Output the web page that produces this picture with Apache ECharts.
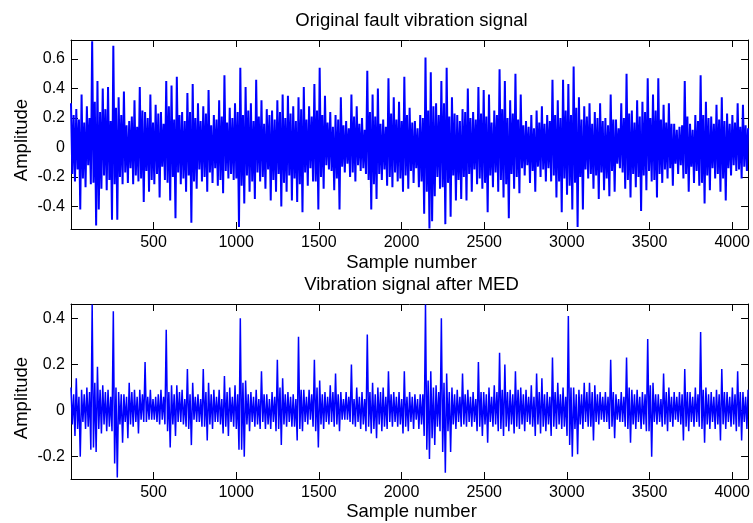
<!DOCTYPE html>
<html><head><meta charset="utf-8">
<script src="https://cdn.jsdelivr.net/npm/echarts@6/dist/echarts.min.js"></script>
<style>html,body{margin:0;padding:0;background:#fff}#c{width:753px;height:523px}</style>
</head><body><div id="c"></div>
<script>
// ---- data (one value every 8 samples) ----
const sampleStep = 8;
const sampleCount = 4096;
const origSignal = [
0.30,-0.18,0.22,-0.23, 0.26,-0.15,0.19,-0.42, 0.36,-0.21,0.17,-0.27, 0.28,-0.12,0.20,-0.25,
0.72,-0.24,0.31,-0.53, 0.45,-0.42,0.24,-0.28, 0.40,-0.19,0.26,-0.29, 0.41,-0.22,0.18,-0.49,
0.69,-0.25,0.27,-0.49, 0.34,-0.20,0.22,-0.25, 0.38,-0.17,0.15,-0.24, 0.18,-0.14,0.21,-0.25,
0.32,-0.19,0.14,-0.23, 0.41,-0.21,0.25,-0.37, 0.24,-0.16,0.20,-0.30, 0.36,-0.22,0.17,-0.25,
0.29,-0.18,0.23,-0.34, 0.24,-0.13,0.16,-0.22, 0.45,-0.24,0.28,-0.36, 0.42,-0.20,0.19,-0.48,
0.48,-0.17,0.22,-0.25, 0.24,-0.21,0.18,-0.30, 0.37,-0.19,0.24,-0.51, 0.43,-0.23,0.20,-0.28,
0.30,-0.15,0.18,-0.23, 0.28,-0.20,0.23,-0.30, 0.39,-0.17,0.15,-0.24, 0.22,-0.14,0.19,-0.26,
0.32,-0.22,0.21,-0.31, 0.49,-0.16,0.17,-0.21, 0.27,-0.18,0.20,-0.22, 0.30,-0.21,0.24,-0.54,
0.54,-0.26,0.22,-0.38, 0.41,-0.19,0.25,-0.30, 0.30,-0.23,0.18,-0.35, 0.46,-0.17,0.21,-0.23,
0.32,-0.20,0.16,-0.28, 0.26,-0.15,0.22,-0.36, 0.25,-0.22,0.19,-0.30, 0.32,-0.18,0.24,-0.40,
0.36,-0.24,0.20,-0.30, 0.35,-0.19,0.23,-0.36, 0.28,-0.21,0.18,-0.37, 0.34,-0.25,0.26,-0.44,
0.41,-0.17,0.19,-0.26, 0.28,-0.14,0.21,-0.23, 0.43,-0.23,0.25,-0.42, 0.54,-0.20,0.22,-0.28,
0.35,-0.12,0.17,-0.15, 0.24,-0.16,0.14,-0.29, 0.22,-0.21,0.19,-0.42, 0.34,-0.13,0.15,-0.17,
0.18,-0.11,0.13,-0.20, 0.36,-0.17,0.21,-0.23, 0.28,-0.12,0.16,-0.16, 0.20,-0.14,0.12,-0.18,
0.52,-0.22,0.24,-0.42, 0.36,-0.25,0.21,-0.35, 0.40,-0.18,0.16,-0.22, 0.19,-0.15,0.14,-0.26,
0.47,-0.20,0.23,-0.27, 0.34,-0.17,0.19,-0.23, 0.31,-0.21,0.18,-0.30, 0.48,-0.19,0.22,-0.28,
0.27,-0.16,0.17,-0.24, 0.18,-0.14,0.13,-0.27, 0.22,-0.23,0.20,-0.45, 0.61,-0.30,0.25,-0.55,
0.51,-0.50,0.28,-0.33, 0.30,-0.20,0.22,-0.28, 0.45,-0.27,0.30,-0.52, 0.54,-0.24,0.21,-0.47,
0.34,-0.19,0.23,-0.36, 0.22,-0.22,0.18,-0.35, 0.26,-0.20,0.24,-0.36, 0.40,-0.18,0.20,-0.30,
0.24,-0.15,0.19,-0.25, 0.41,-0.21,0.23,-0.28, 0.39,-0.24,0.21,-0.44, 0.36,-0.19,0.17,-0.27,
0.25,-0.17,0.22,-0.30, 0.53,-0.22,0.26,-0.34, 0.45,-0.25,0.20,-0.48, 0.32,-0.18,0.23,-0.28,
0.50,-0.20,0.19,-0.31, 0.36,-0.14,0.15,-0.19, 0.18,-0.12,0.14,-0.24, 0.22,-0.16,0.13,-0.30,
0.25,-0.13,0.17,-0.20, 0.28,-0.15,0.16,-0.23, 0.22,-0.14,0.18,-0.23, 0.46,-0.19,0.22,-0.34,
0.32,-0.23,0.20,-0.44, 0.46,-0.21,0.25,-0.32, 0.43,-0.26,0.22,-0.42, 0.55,-0.24,0.27,-0.54,
0.34,-0.20,0.19,-0.42, 0.28,-0.15,0.21,-0.21, 0.30,-0.18,0.16,-0.28, 0.24,-0.19,0.20,-0.35,
0.30,-0.17,0.18,-0.29, 0.20,-0.21,0.15,-0.33, 0.36,-0.16,0.19,-0.30, 0.19,-0.11,0.13,-0.14,
0.30,-0.17,0.20,-0.28, 0.50,-0.22,0.23,-0.34, 0.25,-0.18,0.17,-0.27, 0.32,-0.20,0.21,-0.43,
0.31,-0.19,0.24,-0.29, 0.47,-0.16,0.20,-0.23, 0.36,-0.22,0.25,-0.34, 0.47,-0.18,0.19,-0.24,
0.29,-0.15,0.17,-0.21, 0.30,-0.14,0.16,-0.26, 0.16,-0.11,0.12,-0.18, 0.14,-0.12,0.15,-0.21,
0.45,-0.18,0.21,-0.30, 0.16,-0.13,0.12,-0.24, 0.22,-0.16,0.18,-0.26, 0.49,-0.24,0.22,-0.38,
0.31,-0.19,0.20,-0.29, 0.21,-0.14,0.16,-0.21, 0.29,-0.18,0.19,-0.30, 0.34,-0.21,0.18,-0.36,
0.23,-0.14,0.16,-0.19, 0.22,-0.12,0.17,-0.16, 0.30,-0.15,0.14,-0.21, 0.29,-0.13,0.15,-0.16,
0.13];
const medSignal = [
0.10,-0.06,0.07,-0.11, 0.14,-0.08,0.06,-0.20, 0.09,-0.05,0.07,-0.08, 0.10,-0.07,0.08,-0.17,
0.46,-0.16,0.12,-0.18, 0.19,-0.08,0.09,-0.10, 0.11,-0.06,0.08,-0.09, 0.09,-0.07,0.06,-0.09,
0.43,-0.23,0.10,-0.29, 0.08,-0.06,0.07,-0.14, 0.07,-0.05,0.06,-0.12, 0.12,-0.06,0.08,-0.07,
0.09,-0.05,0.06,-0.10, 0.09,-0.04,0.07,-0.05, 0.21,-0.05,0.06,-0.04, 0.09,-0.04,0.05,-0.04,
0.06,-0.05,0.07,-0.06, 0.09,-0.04,0.06,-0.06, 0.35,-0.09,0.08,-0.16, 0.11,-0.06,0.07,-0.11,
0.11,-0.05,0.08,-0.05, 0.09,-0.06,0.05,-0.07, 0.18,-0.08,0.07,-0.15, 0.12,-0.04,0.06,-0.05,
0.07,-0.05,0.05,-0.07, 0.18,-0.07,0.08,-0.13, 0.12,-0.06,0.07,-0.08, 0.09,-0.05,0.06,-0.05,
0.09,-0.06,0.05,-0.10, 0.15,-0.07,0.08,-0.11, 0.10,-0.05,0.06,-0.07, 0.11,-0.08,0.07,-0.17,
0.40,-0.17,0.12,-0.20, 0.13,-0.06,0.07,-0.09, 0.08,-0.05,0.06,-0.07, 0.09,-0.06,0.05,-0.08,
0.17,-0.05,0.07,-0.08, 0.07,-0.06,0.05,-0.08, 0.08,-0.05,0.06,-0.09, 0.22,-0.08,0.10,-0.15,
0.14,-0.06,0.07,-0.07, 0.08,-0.05,0.06,-0.07, 0.07,-0.07,0.05,-0.13, 0.32,-0.08,0.09,-0.09,
0.09,-0.05,0.06,-0.06, 0.09,-0.04,0.07,-0.07, 0.22,-0.09,0.10,-0.16, 0.13,-0.06,0.07,-0.08,
0.08,-0.05,0.06,-0.06, 0.11,-0.05,0.08,-0.07, 0.16,-0.06,0.07,-0.09, 0.08,-0.04,0.05,-0.04,
0.08,-0.04,0.06,-0.05, 0.20,-0.06,0.05,-0.07, 0.10,-0.05,0.06,-0.08, 0.08,-0.06,0.05,-0.09,
0.33,-0.07,0.08,-0.10, 0.12,-0.08,0.07,-0.12, 0.10,-0.06,0.08,-0.09, 0.10,-0.07,0.06,-0.08,
0.17,-0.05,0.07,-0.07, 0.08,-0.05,0.06,-0.07, 0.08,-0.06,0.05,-0.10, 0.17,-0.07,0.06,-0.09,
0.08,-0.05,0.06,-0.08, 0.07,-0.04,0.05,-0.08, 0.07,-0.06,0.07,-0.11, 0.46,-0.17,0.13,-0.21,
0.17,-0.12,0.10,-0.15, 0.11,-0.07,0.08,-0.09, 0.40,-0.18,0.12,-0.27, 0.16,-0.09,0.08,-0.18,
0.10,-0.06,0.07,-0.08, 0.09,-0.05,0.06,-0.07, 0.16,-0.06,0.07,-0.07, 0.09,-0.05,0.06,-0.07,
0.08,-0.05,0.05,-0.09, 0.21,-0.07,0.08,-0.11, 0.08,-0.06,0.07,-0.14, 0.10,-0.05,0.06,-0.07,
0.11,-0.06,0.08,-0.09, 0.25,-0.08,0.09,-0.11, 0.20,-0.07,0.08,-0.09, 0.09,-0.06,0.07,-0.10,
0.17,-0.07,0.09,-0.08, 0.10,-0.06,0.07,-0.09, 0.09,-0.05,0.06,-0.06, 0.11,-0.07,0.06,-0.11,
0.16,-0.06,0.08,-0.10, 0.14,-0.07,0.07,-0.09, 0.08,-0.06,0.06,-0.11, 0.23,-0.07,0.08,-0.08,
0.12,-0.06,0.07,-0.08, 0.10,-0.07,0.06,-0.11, 0.41,-0.15,0.10,-0.20, 0.10,-0.08,0.07,-0.19,
0.09,-0.06,0.07,-0.08, 0.12,-0.05,0.08,-0.07, 0.12,-0.07,0.08,-0.13, 0.11,-0.05,0.07,-0.06,
0.08,-0.04,0.06,-0.05, 0.08,-0.05,0.06,-0.08, 0.22,-0.07,0.08,-0.12, 0.07,-0.04,0.05,-0.05,
0.08,-0.05,0.06,-0.07, 0.23,-0.08,0.10,-0.14, 0.09,-0.06,0.07,-0.08, 0.09,-0.05,0.06,-0.08,
0.08,-0.06,0.07,-0.09, 0.31,-0.09,0.11,-0.20, 0.12,-0.05,0.07,-0.06, 0.07,-0.05,0.05,-0.07,
0.16,-0.06,0.08,-0.09, 0.10,-0.05,0.06,-0.07, 0.08,-0.04,0.06,-0.05, 0.08,-0.06,0.07,-0.13,
0.18,-0.07,0.08,-0.09, 0.08,-0.05,0.06,-0.07, 0.10,-0.05,0.07,-0.07, 0.34,-0.08,0.09,-0.14,
0.10,-0.06,0.07,-0.08, 0.08,-0.05,0.06,-0.08, 0.09,-0.06,0.07,-0.13, 0.18,-0.06,0.08,-0.08,
0.08,-0.05,0.06,-0.07, 0.10,-0.06,0.07,-0.09, 0.17,-0.07,0.08,-0.13, 0.08,-0.05,0.06,-0.08,
0.09];
const xTickValues = [500, 1000, 1500, 2000, 2500, 3000, 3500, 4000];
const yTicksOrig = [-0.4, -0.2, 0, 0.2, 0.4, 0.6];
const yTicksMed = [-0.2, 0, 0.2, 0.4];
const yRangeOrig = [-0.553, 0.729];
const yRangeMed = [-0.297, 0.462];
const titles = ['Original fault vibration signal', 'Vibration signal after MED'];
const xName = 'Sample number';
const yName = 'Amplitude';

// ---- chart ----
const FONT = '"Liberation Sans", Arial, sans-serif';
const TICK_FS = 16, LABEL_FS = 18.5;
function toPairs(vals) {
  return vals.map((v, i) => [Math.min(1 + i * sampleStep, sampleCount), v]);
}
const fmtY = v => String(Math.round(v * 10) / 10);
const grids = [
  { left: 71, top: 40, width: 681, height: 189 },
  { left: 71, top: 304, width: 681, height: 175 }
];
const lineStyle = { color: '#000', width: 1 };
function xAxesFor(gi) {
  return [
    { type: 'value', gridIndex: gi, min: 1, max: sampleCount, position: 'bottom',
      axisLine: { show: true, onZero: false, lineStyle },
      axisTick: { show: true, inside: true, length: 7, customValues: xTickValues, lineStyle },
      axisLabel: { show: true, customValues: xTickValues, margin: 6, color: '#000',
                   fontSize: TICK_FS, fontFamily: FONT, formatter: v => String(v) },
      splitLine: { show: false } },
    { type: 'value', gridIndex: gi, min: 1, max: sampleCount, position: 'top',
      axisLine: { show: true, onZero: false, lineStyle },
      axisTick: { show: true, inside: true, length: 7, customValues: xTickValues, lineStyle },
      axisLabel: { show: false }, splitLine: { show: false } }
  ];
}
function yAxesFor(gi, range, ticks) {
  return [
    { type: 'value', gridIndex: gi, min: range[0], max: range[1], position: 'left',
      axisLine: { show: true, onZero: false, lineStyle },
      axisTick: { show: true, inside: true, length: 7, customValues: ticks, lineStyle },
      axisLabel: { show: true, customValues: ticks, margin: 6, color: '#000',
                   fontSize: TICK_FS, fontFamily: FONT, formatter: fmtY },
      splitLine: { show: false } },
    { type: 'value', gridIndex: gi, min: range[0], max: range[1], position: 'right',
      axisLine: { show: true, onZero: false, lineStyle },
      axisTick: { show: true, inside: true, length: 7, customValues: ticks, lineStyle },
      axisLabel: { show: false }, splitLine: { show: false } }
  ];
}
const txt = (text, x, y, rot) => ({
  type: 'text', x, y, rotation: rot || 0, silent: true,
  style: { text, fontSize: LABEL_FS, fontFamily: FONT, fill: '#000', align: 'center', verticalAlign: 'middle' }
});
const signalSeries = (xi, yi, vals, w) => ({
  type: 'line', xAxisIndex: xi, yAxisIndex: yi, data: toPairs(vals), showSymbol: false,
  lineStyle: { color: '#0000ff', width: w }, silent: true
});
const chart = echarts.init(document.getElementById('c'), null, { renderer: 'canvas' });
chart.setOption({
  animation: false,
  backgroundColor: '#fff',
  grid: grids,
  xAxis: [...xAxesFor(0), ...xAxesFor(1)],
  yAxis: [...yAxesFor(0, yRangeOrig, yTicksOrig), ...yAxesFor(1, yRangeMed, yTicksMed)],
  series: [signalSeries(0, 0, origSignal, 2), signalSeries(2, 2, medSignal, 1.5)],
  graphic: [
    txt(titles[0], 411.5, 21),
    txt(titles[1], 411.5, 285),
    txt(xName, 411.5, 263),
    txt(xName, 411.5, 512),
    txt(yName, 22, 140, Math.PI / 2),
    txt(yName, 22, 398, Math.PI / 2)
  ]
});
</script></body></html>
